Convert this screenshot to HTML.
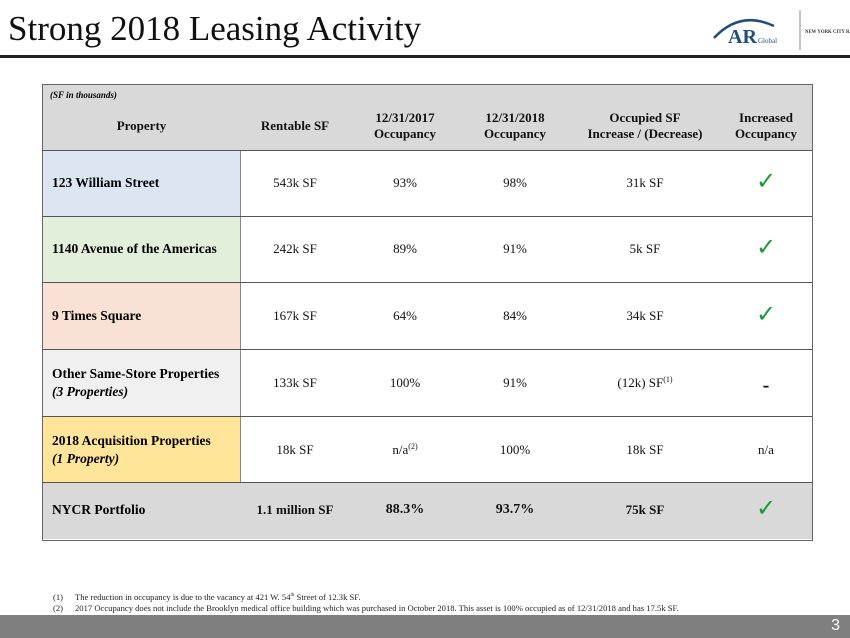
<!DOCTYPE html>
<html><head><style>
body{margin:0;width:850px;height:638px;position:relative;background:#fff;font-family:"Liberation Serif",serif;overflow:hidden}
.a{position:absolute}
.c{position:absolute;text-align:center;font-size:13px;color:#111;transform:translateY(-50%)}
.h{font-weight:bold;font-size:13px;line-height:16px}
.p{position:absolute;left:52px;font-size:13.5px;font-weight:bold;transform:translateY(-50%);line-height:18px}
.hl{position:absolute;left:42px;width:770px;height:1px;background:#555}
.ck{color:#1a9a3a;font-size:24px;font-weight:bold;font-family:"DejaVu Sans",sans-serif}
sup{font-size:8px}
</style></head><body>
<div class="a" style="left:8px;top:9px;font-size:35px;color:#111">Strong 2018 Leasing Activity</div>
<div class="a" style="left:0;top:55px;width:850px;height:3px;background:#222"></div>
<svg class="a" style="left:700px;top:6px" width="150" height="46">
<path d="M14 32 Q40 4 74 20" stroke="#1f4e79" stroke-width="2.5" fill="none"/>
<text x="28" y="37" font-family="Liberation Serif" font-weight="bold" font-size="20" fill="#1f4e79">AR</text>
<text x="58" y="37" font-family="Liberation Serif" font-size="7" fill="#1f4e79">Global</text>
<line x1="100" y1="4" x2="100" y2="44" stroke="#888"/>
<text x="105" y="27" font-family="Liberation Serif" font-size="4.8" font-weight="bold" fill="#333">NEW YORK CITY REIT</text>
</svg>
<div class="a" style="left:42px;top:84px;width:769px;height:455px;border:1px solid #666"></div>
<div class="a" style="left:43px;top:85px;width:769px;height:65px;background:#d9d9d9"></div>
<div class="a" style="left:43px;top:150px;width:197px;height:66px;background:#dce6f2"></div>
<div class="a" style="left:43px;top:216px;width:197px;height:66px;background:#e2efda"></div>
<div class="a" style="left:43px;top:282px;width:197px;height:67px;background:#f9e2d5"></div>
<div class="a" style="left:43px;top:349px;width:197px;height:67px;background:#f0f0f0"></div>
<div class="a" style="left:43px;top:416px;width:197px;height:66px;background:#ffe59a"></div>
<div class="a" style="left:43px;top:482px;width:769px;height:57px;background:#d9d9d9"></div>
<div class="a" style="left:240px;top:150px;width:1px;height:332px;background:#888"></div>
<div class="hl" style="top:150px"></div><div class="hl" style="top:216px"></div><div class="hl" style="top:282px"></div><div class="hl" style="top:349px"></div><div class="hl" style="top:416px"></div><div class="hl" style="top:482px"></div>
<div class="a" style="left:50px;top:90px;font-size:9px;font-weight:bold;font-style:italic">(SF in thousands)</div>
<div class="c h" style="left:43px;width:197px;top:126px">Property</div>
<div class="c h" style="left:240px;width:110px;top:126px">Rentable SF</div>
<div class="c h" style="left:350px;width:110px;top:126px">12/31/2017<br>Occupancy</div>
<div class="c h" style="left:460px;width:110px;top:126px">12/31/2018<br>Occupancy</div>
<div class="c h" style="left:570px;width:150px;top:126px">Occupied SF<br>Increase / (Decrease)</div>
<div class="c h" style="left:720px;width:92px;top:126px">Increased<br>Occupancy</div>

<div class="p" style="top:183px">123 William Street</div>
<div class="c" style="left:240px;width:110px;top:183px">543k SF</div>
<div class="c" style="left:350px;width:110px;top:183px">93%</div>
<div class="c" style="left:460px;width:110px;top:183px">98%</div>
<div class="c" style="left:570px;width:150px;top:183px">31k SF</div>
<div class="c ck" style="left:720px;width:92px;top:181px">✓</div>

<div class="p" style="top:249px">1140 Avenue of the Americas</div>
<div class="c" style="left:240px;width:110px;top:249px">242k SF</div>
<div class="c" style="left:350px;width:110px;top:249px">89%</div>
<div class="c" style="left:460px;width:110px;top:249px">91%</div>
<div class="c" style="left:570px;width:150px;top:249px">5k SF</div>
<div class="c ck" style="left:720px;width:92px;top:247px">✓</div>

<div class="p" style="top:316px">9 Times Square</div>
<div class="c" style="left:240px;width:110px;top:316px">167k SF</div>
<div class="c" style="left:350px;width:110px;top:316px">64%</div>
<div class="c" style="left:460px;width:110px;top:316px">84%</div>
<div class="c" style="left:570px;width:150px;top:316px">34k SF</div>
<div class="c ck" style="left:720px;width:92px;top:314px">✓</div>

<div class="p" style="top:383px">Other Same-Store Properties<br><i>(3 Properties)</i></div>
<div class="c" style="left:240px;width:110px;top:383px">133k SF</div>
<div class="c" style="left:350px;width:110px;top:383px">100%</div>
<div class="c" style="left:460px;width:110px;top:383px">91%</div>
<div class="c" style="left:570px;width:150px;top:383px">(12k) SF<sup>(1)</sup></div>
<div class="c" style="left:720px;width:92px;top:386px;font-weight:bold;font-size:20px">-</div>

<div class="p" style="top:450px">2018 Acquisition Properties<br><i>(1 Property)</i></div>
<div class="c" style="left:240px;width:110px;top:450px">18k SF</div>
<div class="c" style="left:350px;width:110px;top:450px">n/a<sup>(2)</sup></div>
<div class="c" style="left:460px;width:110px;top:450px">100%</div>
<div class="c" style="left:570px;width:150px;top:450px">18k SF</div>
<div class="c" style="left:720px;width:92px;top:450px">n/a</div>

<div class="p" style="top:510px">NYCR Portfolio</div>
<div class="c" style="left:240px;width:110px;top:510px;font-weight:bold">1.1 million SF</div>
<div class="c" style="left:350px;width:110px;top:510px;font-weight:bold;font-size:14px">88.3%</div>
<div class="c" style="left:460px;width:110px;top:510px;font-weight:bold;font-size:14px">93.7%</div>
<div class="c" style="left:570px;width:150px;top:510px;font-weight:bold">75k SF</div>
<div class="c ck" style="left:720px;width:92px;top:508px">✓</div>

<div class="a" style="left:53px;top:590px;font-size:8.6px;line-height:11px;color:#222;white-space:nowrap">
<span style="display:inline-block;width:22px">(1)</span>The reduction in occupancy is due to the vacancy at 421 W. 54<sup style="font-size:5px">th</sup> Street of 12.3k SF.<br>
<span style="display:inline-block;width:22px">(2)</span>2017 Occupancy does not include the Brooklyn medical office building which was purchased in October 2018. This asset is 100% occupied as of 12/31/2018 and has 17.5k SF.</div>
<div class="a" style="left:0;top:615px;width:850px;height:23px;background:#7f7f7f"></div>
<div class="a" style="right:10px;top:617px;color:#fff;font-size:16px;font-family:'Liberation Sans',sans-serif">3</div>
</body></html>
